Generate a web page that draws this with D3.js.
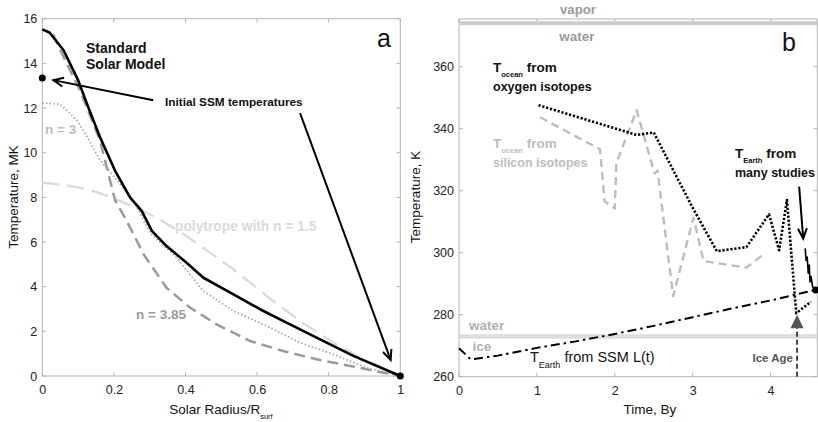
<!DOCTYPE html>
<html><head><meta charset="utf-8">
<script src="https://cdn.jsdelivr.net/npm/d3@7"></script>
<style>
html,body{margin:0;padding:0;background:#fff;}
svg{display:block;font-family:"Liberation Sans",Arial,sans-serif;}
</style></head>
<body>
<svg id="c" width="818" height="422"></svg>
<script>
// ---------- Panel a data (Solar Radius/R_surf, Temperature MK) ----------
const ssmR = [0,0.02,0.059,0.1,0.128,0.161,0.203,0.245,0.278,0.306,0.347,0.403,0.45,0.534,0.608,0.692,0.776,0.869,1.0];
const ssmT = [15.52,15.38,14.6,13.25,12.05,10.7,9.2,8.0,7.38,6.5,5.82,5.07,4.4,3.66,2.99,2.31,1.64,0.9,0.0];

const poly15R = [0,0.05,0.1,0.15,0.2,0.254,0.32,0.4,0.534,0.627,0.72,0.813,0.906,0.99];
const poly15T = [8.65,8.58,8.45,8.25,7.95,7.58,7.09,6.3,4.78,3.58,2.46,1.49,0.67,0.08];

const poly3R = [0,0.05,0.096,0.12,0.161,0.208,0.254,0.301,0.375,0.45,0.534,0.627,0.72,0.813,0.906,0.99];
const poly3T = [12.23,12.17,11.46,10.86,9.67,8.77,7.88,6.4,5.3,3.8,2.91,2.24,1.49,0.97,0.37,0.05];

const poly385R = [0.03,0.05,0.105,0.161,0.203,0.236,0.283,0.347,0.413,0.487,0.58,0.673,0.766,0.86,0.953,1.0];
const poly385T = [15.3,14.6,12.8,10.56,7.88,6.94,5.45,3.95,3.06,2.31,1.57,1.12,0.75,0.45,0.15,0.0];

const initialR = [0,1];
const initialT = [13.35,0];

const aXTicks = [0,0.2,0.4,0.6,0.8,1];
const aXTickLabels = ["0","0.2","0.4","0.6","0.8","1"];
const aYTicks = [0,2,4,6,8,10,12,14,16];

// ---------- Panel b data (Time By, Temperature K) ----------
const oxyTime = [1.02,2.28,2.5,3.01,3.31,3.69,3.98,4.11,4.21,4.33,4.52];
const oxyTemp = [347.6,338.0,338.8,314.0,300.5,301.8,312.4,300.8,317.0,280.5,284.2];

const siTime = [1.04,1.81,1.87,2.0,2.02,2.28,2.51,2.55,2.58,2.75,3.01,3.14,3.69,3.91];
const siTemp = [343.7,333.4,316.5,314.3,328.8,346.0,325.6,326.5,320.0,286.0,311.3,297.3,295.2,299.5];

const ssmLTime = [0,0.15,0.5,1,1.5,2,2.5,3,3.5,4,4.58];
const ssmLTemp = [269.2,265.6,266.8,269.3,271.4,273.8,276.4,279.2,282.0,284.6,288.0];

const studiesTime = [4.445,4.455,4.47,4.484,4.497,4.506,4.52,4.54,4.57];
const studiesTemp = [301.4,297.6,298.6,293.4,296.0,290.6,292.3,289.0,288.0];

const presentTime = [4.58];
const presentTemp = [288.0];

const boilingK = 374;
const freezingK = 273;
const iceAgeTime = 4.34;
const iceAgeTemp = 280;

const bXTicks = [0,1,2,3,4];
const bYTicks = [260,280,300,320,340,360];

// ---------- drawing ----------
const svg = d3.select("#c");
const FONT = '"Liberation Sans",Arial,sans-serif';
const frameCol = "#b4b4b4";

const xA = d3.scaleLinear().domain([0,1]).range([42.3,400.3]);
const yA = d3.scaleLinear().domain([0,16]).range([376,18.7]);
const xB = d3.scaleLinear().domain([0,4.6]).range([459,817.3]);
const yB = d3.scaleLinear().domain([260,375.4]).range([376.7,19]);

function frame(x, y, xt, yt, xlabels, ylabels) {
  const g = svg.append("g");
  const [x0,x1] = x.range(), [y0,y1] = y.range();
  g.append("rect").attr("x",x0).attr("y",y1).attr("width",x1-x0).attr("height",y0-y1)
    .attr("fill","none").attr("stroke",frameCol).attr("stroke-width",1);
  // inward ticks
  const tl = 4;
  xt.forEach(v => {
    const px = x(v);
    g.append("line").attr("x1",px).attr("x2",px).attr("y1",y0).attr("y2",y0-tl).attr("stroke",frameCol);
    g.append("line").attr("x1",px).attr("x2",px).attr("y1",y1).attr("y2",y1+tl).attr("stroke",frameCol);
  });
  yt.forEach(v => {
    const py = y(v);
    g.append("line").attr("x1",x0).attr("x2",x0+tl).attr("y1",py).attr("y2",py).attr("stroke",frameCol);
    g.append("line").attr("x1",x1).attr("x2",x1-tl).attr("y1",py).attr("y2",py).attr("stroke",frameCol);
  });
  // axis via d3 for labels
  const ax = d3.axisBottom(x).tickValues(xt).tickSize(0).tickPadding(0).tickFormat((d,i)=>xlabels[i]);
  const gx = g.append("g").attr("transform",`translate(0,${y0})`).call(ax);
  gx.select(".domain").remove();
  gx.selectAll("text").attr("dy",null).attr("y",18).attr("font-size",12.5).attr("font-family",FONT).attr("fill","#222");
  const ay = d3.axisLeft(y).tickValues(yt).tickSize(0).tickPadding(5).tickFormat(d=>d);
  const gy = g.append("g").attr("transform",`translate(${x0},0)`).call(ay);
  gy.select(".domain").remove();
  gy.selectAll("text").attr("font-size",12.5).attr("font-family",FONT).attr("fill","#222");
}

frame(xA, yA, aXTicks, aYTicks, aXTickLabels, aYTicks);
frame(xB, yB, bXTicks, bYTicks, bXTicks.map(String), bYTicks);

function series(xs, ys, X, Y, opts) {
  const pts = xs.map((v,i)=>[v,ys[i]]);
  const line = d3.line().x(d=>X(d[0])).y(d=>Y(d[1]));
  svg.append("path").attr("d",line(pts)).attr("fill","none")
    .attr("stroke",opts.color).attr("stroke-width",opts.width)
    .attr("stroke-dasharray",opts.dash||null)
    .attr("stroke-linejoin","round").attr("stroke-linecap",opts.cap||"butt");
}

function arrow(x1,y1,x2,y2,w) {
  svg.append("line").attr("x1",x1).attr("y1",y1).attr("x2",x2).attr("y2",y2)
    .attr("stroke","#000").attr("stroke-width",w);
  const a = Math.atan2(y2-y1,x2-x1), L = 11, h = 0.42;
  const p1 = [x2 - L*Math.cos(a-h), y2 - L*Math.sin(a-h)];
  const p2 = [x2 - L*Math.cos(a+h), y2 - L*Math.sin(a+h)];
  svg.append("path").attr("d",`M${p1[0]},${p1[1]}L${x2},${y2}L${p2[0]},${p2[1]}`)
    .attr("fill","none").attr("stroke","#000").attr("stroke-width",w);
}

function txt(x,y,s,size,col,weight,anchor) {
  return svg.append("text").attr("x",x).attr("y",y).text(s)
    .attr("font-size",size).attr("fill",col).attr("font-weight",weight||"normal")
    .attr("text-anchor",anchor||"start").attr("font-family",FONT);
}

// ---- Panel a curves ----
series(poly15R, poly15T, xA, yA, {color:"#dcdcdc", width:2.5, dash:"17,8"});
series(poly385R, poly385T, xA, yA, {color:"#9a9a9a", width:2.5, dash:"11,6"});
series(poly3R, poly3T, xA, yA, {color:"#a8a8a8", width:1.8, dash:"1.5,2.2"});
series(ssmR, ssmT, xA, yA, {color:"#000", width:2.6});
svg.selectAll(".initdot").data(initialR).enter().append("circle")
  .attr("cx",(d)=>xA(d)).attr("cy",(d,i)=>yA(initialT[i])).attr("r",3.5).attr("fill","#000");

txt(86,53,"Standard",14,"#111","bold");
txt(86,69,"Solar Model",14,"#111","bold");
txt(165,106,"Initial SSM temperatures",11.8,"#111","bold");
arrow(xA(0.31),yA(12.35),xA(0.031),yA(13.25),2);
arrow(xA(0.72),yA(11.77),xA(0.973),yA(0.72),2);
txt(377,47,"a",25,"#111","normal");
txt(45,134,"n = 3",13.5,"#bdbdbd","bold");
txt(136,319,"n = 3.85",13.5,"#9a9a9a","bold");
txt(175,230.5,"polytrope with n = 1.5",13.8,"#dadada","bold");

// axis titles a
txt(0,0,"Temperature, MK",13.5,"#111","normal","middle").attr("transform","translate(18,197) rotate(-90)");
const xt1 = txt(221,414,"Solar Radius/R",13.5,"#111","normal","middle");
xt1.append("tspan").attr("font-size",7.5).attr("dy",5).text("surf");

// ---- Panel b ----
svg.append("line").attr("x1",xB(0)+1).attr("x2",xB(4.6)).attr("y1",yB(boilingK)).attr("y2",yB(boilingK))
  .attr("stroke","#cccccc").attr("stroke-width",4);
svg.append("line").attr("x1",xB(0)+1).attr("x2",xB(4.6)).attr("y1",yB(freezingK)).attr("y2",yB(freezingK))
  .attr("stroke","#dddddd").attr("stroke-width",4.5);

txt(578,13.5,"vapor",13.2,"#9a9a9a","bold","middle");
txt(577,40.5,"water",13.5,"#9a9a9a","bold","middle");
txt(469,329.5,"water",13.5,"#b0b0b0","bold");
txt(472.5,350.5,"ice",13.5,"#b0b0b0","bold");
txt(782,50.5,"b",25,"#111","normal");

series(siTime, siTemp, xB, yB, {color:"#bdbdbd", width:2.4, dash:"8,5"});
series(oxyTime, oxyTemp, xB, yB, {color:"#000", width:2.6, dash:"2.2,1.8"});
series(ssmLTime, ssmLTemp, xB, yB, {color:"#000", width:2, dash:"9,4,2.5,4"});
series(studiesTime, studiesTemp, xB, yB, {color:"#000", width:1.6});
svg.selectAll(".nowdot").data(presentTime).enter().append("circle")
  .attr("cx",d=>xB(d)).attr("cy",(d,i)=>yB(presentTemp[i])).attr("r",3.5).attr("fill","#000");

// Ice age marker
const iaX = xB(iceAgeTime), iaY = yB(iceAgeTemp);
svg.append("line").attr("x1",iaX).attr("x2",iaX).attr("y1",yB(260)).attr("y2",iaY+12)
  .attr("stroke","#444").attr("stroke-width",2).attr("stroke-dasharray","5,3");
svg.append("path").attr("d",`M${iaX},${iaY}L${iaX-6.5},${iaY+13.5}L${iaX+6.5},${iaY+13.5}Z`).attr("fill","#555");
txt(793,361.5,"Ice Age",11.5,"#555","bold","end");

// labels
function subLabel(x,y,main,sub,rest,size,subSize,col,weight){
  const t = txt(x,y,main,size,col,weight);
  t.append("tspan").attr("font-size",subSize).attr("dy",5).text(sub);
  t.append("tspan").attr("dy",-5).text(rest);
  return t;
}
subLabel(493,71.5,"T","ocean"," from",13.5,7.5,"#111","bold");
txt(493,90.5,"oxygen isotopes",12.5,"#111","bold");
subLabel(493,148,"T","ocean"," from",13.5,7.5,"#bdbdbd","bold");
txt(493,167,"silicon isotopes",12.5,"#bdbdbd","bold");
subLabel(735,157.5,"T","Earth"," from",13.5,7.5,"#111","bold");
txt(735,176.5,"many studies",12.5,"#111","bold");
const te = txt(530,361.5,"T",14.5,"#111","normal");
te.append("tspan").attr("font-size",9).attr("dy",6.5).text("Earth");
te.append("tspan").attr("dy",-6.5).text(" from SSM L(t)");
arrow(xB(4.367),yB(321.3),xB(4.419),yB(304.6),2);

// axis titles b
txt(0,0,"Temperature, K",13.5,"#111","normal","middle").attr("transform","translate(420,197) rotate(-90)");
txt(650,414,"Time, By",13.5,"#111","normal","middle");
</script>
</body></html>
